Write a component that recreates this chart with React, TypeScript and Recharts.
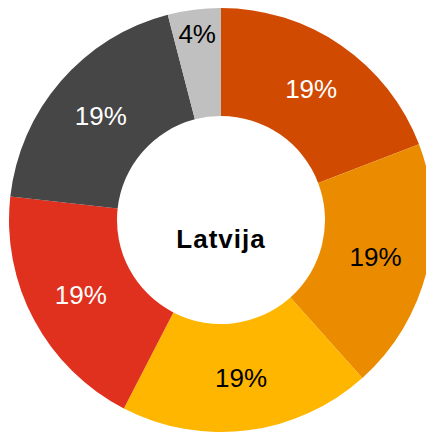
import React from "react";
import { PieChart, Pie, Cell } from "recharts";

const segments = ["A", "B", "C", "D", "E", "F"];
const shares = [19, 19, 19, 19, 19, 4];
const labels = ["19%", "19%", "19%", "19%", "19%", "4%"];
const COLORS = ["#D04A02", "#EB8C00", "#FFB600", "#E0301E", "#464646", "#C0C0C0"];
const TEXT_COLORS = ["#FFFFFF", "#000000", "#000000", "#FFFFFF", "#FFFFFF", "#000000"];

const data = segments.map((name, i) => ({ name, value: shares[i], label: labels[i] }));

const RAD = Math.PI / 180;

const renderLabel = (props: any) => {
  const { cx, cy, midAngle, index, percent } = props;
  const r = percent < 0.1 ? 188 : 159;
  const x = cx + r * Math.cos(-midAngle * RAD);
  const y = cy + r * Math.sin(-midAngle * RAD);
  return (
    <text
      x={x}
      y={y}
      fill={TEXT_COLORS[index]}
      textAnchor="middle"
      dominantBaseline="central"
      fontSize={26}
      fontFamily="'Liberation Sans', Arial, sans-serif"
    >
      {labels[index]}
    </text>
  );
};

export default function App() {
  return (
    <div style={{ width: 426, height: 424 }}>
      <PieChart width={426} height={424} margin={{ top: 0, right: 0, bottom: 0, left: 0 }}>
        <Pie
          data={data}
          dataKey="value"
          nameKey="name"
          cx={213}
          cy={212}
          innerRadius={104}
          outerRadius={212}
          startAngle={90}
          endAngle={-270}
          stroke="none"
          label={renderLabel}
          labelLine={false}
          isAnimationActive={false}
        >
          {data.map((entry, index) => (
            <Cell key={`cell-${index}`} fill={COLORS[index]} />
          ))}
        </Pie>
        <text
          x={213}
          y={231}
          textAnchor="middle"
          dominantBaseline="central"
          fontSize={26}
          fontWeight="bold"
          letterSpacing={1}
          fontFamily="'Liberation Sans', Arial, sans-serif"
          fill="#000000"
        >
          Latvija
        </text>
      </PieChart>
    </div>
  );
}
